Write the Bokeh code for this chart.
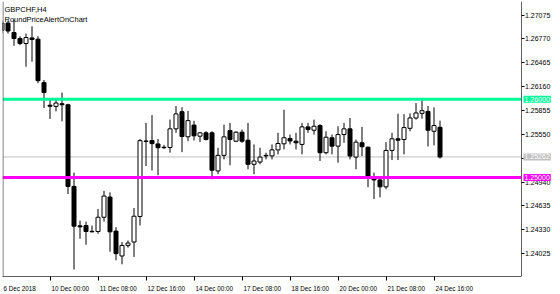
from bokeh.plotting import figure
from bokeh.models import (Range1d, LinearAxis, FixedTicker, PrintfTickFormatter, Span, Label,
                          ColumnDataSource)
from bokeh.embed import file_html
from bokeh.resources import INLINE

symbol_title = "GBPCHF,H4"
indicator_title = "RoundPriceAlertOnChart"

opens = [1.26881, 1.26973, 1.26852, 1.26776, 1.26712, 1.26783, 1.26767, 1.26212, 1.25923, 1.25908,
         1.25942, 1.25929, 1.24885, 1.24381, 1.24385, 1.24311, 1.24309, 1.24491, 1.24749, 1.24314,
         1.23996, 1.24131, 1.24174, 1.24501, 1.25466, 1.25472, 1.25428, 1.25386, 1.25383, 1.25621,
         1.25840, 1.25520, 1.25669, 1.25527, 1.25570, 1.25570, 1.25083, 1.25282, 1.25599, 1.25463,
         1.25578, 1.25476, 1.25168, 1.25197, 1.25282, 1.25275, 1.25352, 1.25430, 1.25498, 1.25463,
         1.25422, 1.25646, 1.25603, 1.25663, 1.25316, 1.25507, 1.25400, 1.25548, 1.25621, 1.25260,
         1.25443, 1.25387, 1.24999, 1.24968, 1.24880, 1.25345, 1.25494, 1.25485, 1.25628, 1.25760,
         1.25819, 1.25844, 1.25590, 1.25641]
highs = [1.27008, 1.26999, 1.27020, 1.26805, 1.26839, 1.26932, 1.26805, 1.26246, 1.25993, 1.25993,
         1.26085, 1.25942, 1.25062, 1.24448, 1.24435, 1.24385, 1.24597, 1.24829, 1.24809, 1.24364,
         1.24174, 1.24194, 1.24609, 1.25494, 1.25697, 1.25796, 1.25491, 1.25415, 1.25739, 1.25913,
         1.25897, 1.25850, 1.25724, 1.25578, 1.25590, 1.25590, 1.25380, 1.25675, 1.25697, 1.25590,
         1.25612, 1.25697, 1.25422, 1.25380, 1.25316, 1.25422, 1.25570, 1.25866, 1.25548, 1.25570,
         1.25697, 1.25697, 1.25739, 1.25680, 1.25590, 1.25548, 1.25654, 1.25697, 1.25760, 1.25485,
         1.25646, 1.25392, 1.25062, 1.25009, 1.25451, 1.25570, 1.25815, 1.25809, 1.25819, 1.25951,
         1.25984, 1.25913, 1.25895, 1.25726]
lows = [1.26843, 1.26839, 1.26682, 1.26690, 1.26415, 1.26479, 1.26205, 1.25887, 1.25748, 1.25844,
        1.25717, 1.24787, 1.23823, 1.24216, 1.24140, 1.24298, 1.24279, 1.24435, 1.24051, 1.23941,
        1.23890, 1.24102, 1.23984, 1.24385, 1.25146, 1.25088, 1.25028, 1.25364, 1.25316, 1.25570,
        1.25323, 1.25463, 1.25472, 1.25451, 1.25472, 1.24977, 1.25041, 1.25231, 1.25155, 1.25451,
        1.25443, 1.25104, 1.25041, 1.25168, 1.25231, 1.25231, 1.25295, 1.25358, 1.25422, 1.25358,
        1.25295, 1.25570, 1.25548, 1.25210, 1.25295, 1.25295, 1.25189, 1.25443, 1.25231, 1.25104,
        1.25273, 1.24876, 1.24724, 1.24745, 1.24850, 1.25222, 1.25222, 1.25295, 1.25590, 1.25739,
        1.25751, 1.25396, 1.25410, 1.25240]
closes = [1.26973, 1.26872, 1.26776, 1.26712, 1.26788, 1.26763, 1.26237, 1.26085, 1.25910, 1.25951,
          1.25929, 1.24885, 1.24377, 1.24368, 1.24309, 1.24305, 1.24491, 1.24762, 1.24305, 1.24026,
          1.24131, 1.24161, 1.24504, 1.25470, 1.25460, 1.25432, 1.25380, 1.25380, 1.25621, 1.25812,
          1.25523, 1.25726, 1.25532, 1.25570, 1.25485, 1.25092, 1.25282, 1.25519, 1.25485, 1.25578,
          1.25463, 1.25168, 1.25210, 1.25260, 1.25275, 1.25352, 1.25434, 1.25507, 1.25466, 1.25443,
          1.25646, 1.25612, 1.25654, 1.25316, 1.25514, 1.25400, 1.25548, 1.25621, 1.25273, 1.25451,
          1.25392, 1.25015, 1.24968, 1.24880, 1.25345, 1.25494, 1.25476, 1.25637, 1.25760, 1.25824,
          1.25853, 1.25603, 1.25663, 1.25262]

round_levels = [1.26000, 1.25000]
bid_price = 1.25262
price_ticks = [1.27075, 1.26770, 1.26465, 1.26160, 1.25855, 1.25550, 1.25245,
               1.24940, 1.24635, 1.24330, 1.24025]
hidden_price_labels = [1.25245]   # covered by the bid price tag in the reference
time_tick_bars = [0, 8, 16, 24, 32, 40, 48, 56, 64, 72]
time_tick_labels = ["6 Dec 2018", "10 Dec 00:00", "11 Dec 08:00", "12 Dec 16:00", "14 Dec 00:00",
                    "17 Dec 08:00", "18 Dec 16:00", "20 Dec 00:00", "21 Dec 08:00", "24 Dec 16:00"]

# ---- layout / style ----
W, H = 560, 294
BL, BT, BB = 2, 1, 16
CHART_RIGHT = 520          # pixel column of the chart's right border / price scale
FRAME_W = W - BL
FRAME_H = H - BT - BB
PX_PER_BAR = 6.0
X0 = 0.5 / PX_PER_BAR
X1 = X0 + FRAME_W / PX_PER_BAR
PX_PER_PRICE = 7880.0
Y_TOP = 1.27075 + (14.7 - BT) / PX_PER_PRICE
Y_BOT = Y_TOP - FRAME_H / PX_PER_PRICE

def px_to_x(px):
    return X0 + (px - BL) / PX_PER_BAR
def py_to_y(py):
    return Y_TOP - (py - BT) / PX_PER_PRICE

X_EDGE = px_to_x(CHART_RIGHT + 0.5)

FONT = "Liberation Sans"
BOTTOM_FS = 6.3
RIGHT_FS = 7.0
TITLE_FS = 7.5
BORDER = "#606060"
GREEN = "#00FA9A"
MAGENTA = "#FF00FF"
BIDGRAY = "#C0C0C0"

idx = list(range(len(opens)))
bull = [c >= o for o, c in zip(opens, closes)]
src = ColumnDataSource(dict(
    x=idx, o=opens, h=highs, l=lows, c=closes,
    top=[max(o, c) for o, c in zip(opens, closes)],
    bottom=[min(o, c) for o, c in zip(opens, closes)],
    fill=["white" if b else "black" for b in bull],
))

p = figure(width=W, height=H, x_range=Range1d(X0, X1), y_range=Range1d(Y_BOT, Y_TOP),
           output_backend="svg", toolbar_location=None,
           x_axis_location=None, y_axis_location=None,
           min_border_left=BL, min_border_right=0, min_border_top=BT, min_border_bottom=BB)
p.xgrid.grid_line_color = None
p.ygrid.grid_line_color = None
p.outline_line_color = None
p.background_fill_color = "white"
p.border_fill_color = "white"

# left border of the chart
p.add_layout(Span(location=px_to_x(BL + 0.5), dimension="height", line_color=BORDER, line_width=1))

# bid line (behind candles), stops at the price scale
p.segment(x0=[X0], y0=[bid_price], x1=[X_EDGE], y1=[bid_price], line_color=BIDGRAY, line_width=1,
          level="underlay")

p.segment(x0="x", y0="l", x1="x", y1="h", source=src, line_color="black", line_width=1)
p.vbar(x="x", width=4 / PX_PER_BAR, top="top", bottom="bottom", source=src,
       fill_color="fill", line_color="black", line_width=1)

# round-price alert lines
lv_src = ColumnDataSource(dict(x0=[X0] * 2, x1=[X_EDGE] * 2, y=round_levels, col=[GREEN, MAGENTA]))
p.segment(x0="x0", y0="y", x1="x1", y1="y", source=lv_src, line_color="col", line_width=3)

# time axis: labels left-aligned after each tick (labels on shifted major ticks, marks on minor ticks)
cw = {ch: 0.556 for ch in "0123456789"}
cw.update({" ": 0.278, ":": 0.278, "D": 0.722, "e": 0.556, "c": 0.5})
def text_w(s, fs):
    return sum(cw.get(ch, 0.55) for ch in s) * fs

label_pos = []
overrides = {}
for b, lab in zip(time_tick_bars, time_tick_labels):
    pos = round(b + (text_w(lab, BOTTOM_FS) / 2 + 1.5) / PX_PER_BAR, 4)
    label_pos.append(pos)
    overrides[pos] = lab

xaxis = LinearAxis(ticker=FixedTicker(ticks=label_pos, minor_ticks=time_tick_bars),
                   major_label_overrides=overrides, bounds=(X0, X_EDGE),
                   major_tick_out=0, major_tick_in=0, minor_tick_out=4, minor_tick_in=0,
                   minor_tick_line_color="black",
                   axis_line_color=BORDER, major_label_standoff=4,
                   major_label_text_font=FONT, major_label_text_font_size=f"{BOTTOM_FS}px",
                   major_label_text_color="black")
p.add_layout(xaxis, "below")

# price scale drawn at the chart's right border
yaxis = LinearAxis(ticker=FixedTicker(ticks=price_ticks, minor_ticks=[]),
                   formatter=PrintfTickFormatter(format="%.5f"), fixed_location=X_EDGE,
                   major_label_overrides={v: "" for v in hidden_price_labels},
                   major_tick_out=3, major_tick_in=0, minor_tick_out=0, minor_tick_in=0,
                   major_tick_line_color="black",
                   axis_line_color=BORDER, major_label_standoff=1,
                   major_label_text_font=FONT, major_label_text_font_size=f"{RIGHT_FS}px",
                   major_label_text_color="black")
p.add_layout(yaxis, "right")

# price tags on the scale (drawn on top of the scale labels)
for lvl, col in zip(round_levels + [bid_price], [GREEN, MAGENTA, BIDGRAY]):
    p.add_layout(Label(x=px_to_x(CHART_RIGHT + 3), y=lvl, text=f"{lvl:.5f}",
                       text_align="left", text_baseline="middle", level="overlay",
                       text_color="white", text_font=FONT, text_font_size=f"{RIGHT_FS}px",
                       background_fill_color=col, padding=1))

p.add_layout(Label(x=px_to_x(4), y=py_to_y(9.5), text=symbol_title, text_align="left",
                   text_baseline="alphabetic", text_font=FONT, text_font_size=f"{TITLE_FS}px",
                   text_color="black"))
p.add_layout(Label(x=px_to_x(4), y=py_to_y(18.7), text=indicator_title, text_align="left",
                   text_baseline="alphabetic", text_font=FONT, text_font_size=f"{TITLE_FS}px",
                   text_color="black"))

open("out.html", "w").write(file_html(p, INLINE))
